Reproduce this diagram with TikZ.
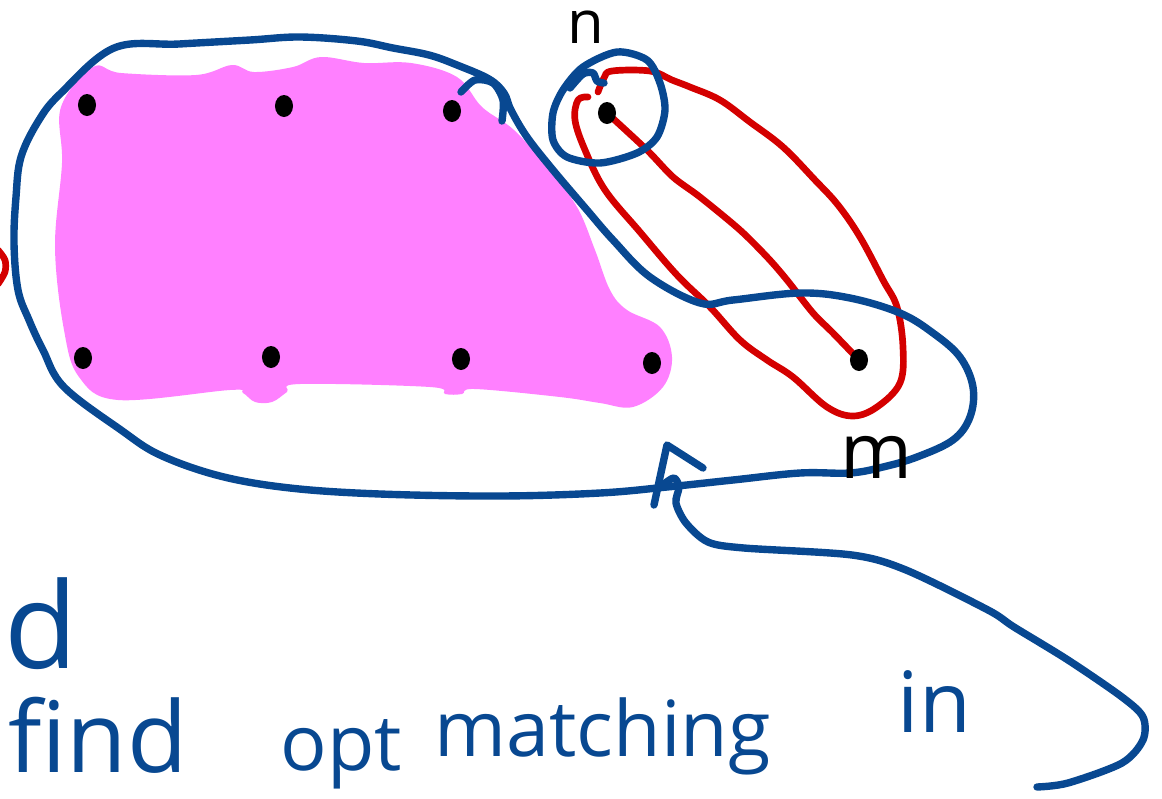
\documentclass[tikz,border=0pt]{standalone}
\usepackage{fontspec}
\setmainfont{Open Sans}
\usetikzlibrary{shapes.geometric}

\definecolor{inkblue}{RGB}{8,72,145}
\definecolor{inkred}{RGB}{212,0,0}
\definecolor{inkpink}{RGB}{255,128,255}

\begin{document}
\begin{tikzpicture}[x=0.01cm, y=-0.01cm,
  blueline/.style={inkblue, line width=2.1pt, line cap=round, line join=round},
  redline/.style={inkred, line width=1.9pt, line cap=round, line join=round},
  vertex/.style={ellipse, fill=black, inner sep=0pt, minimum width=0.18cm, minimum height=0.22cm},
  script/.style={inkblue, anchor=base west, inner sep=0pt}]
\useasboundingbox (0,0) rectangle (1162,799);

\foreach \v/\x/\y in {a1/87/105, a2/284/106, a3/452/111,
  b1/83/358, b2/271/357, b3/461/359, b4/652/363, vn/607/113, vm/859/360}
  \coordinate (\v) at (\x,\y);

% shaded part of the graph
\fill[inkpink] plot[smooth cycle, tension=0.6] coordinates {
  (61,107) (93,67) (121,73) (196,75) (232,65) (254,72) (293,67) (321,57)
  (364,63) (411,63) (457,77) (482,107) (514,130) (547,167) (577,207)
  (595,250) (610,290) (627,310) (660,327) (672,357) (663,387) (633,407)
  (600,403) (560,397) (475,389) (462,394) (445,394) (430,387) (300,384)
  (287,392) (272,402) (255,402) (243,393) (230,390) (118,400) (79,377)
  (64,330) (55,247) (62,163)};

% red loop and the edge n--m
\draw[redline] plot[smooth, tension=0.6] coordinates {
  (598,92) (604,78) (612,71) (650,71) (672,80) (690,87) (720,100) (750,122)
  (783,147) (815,180) (838,205) (860,237) (883,280) (897,307) (903,347)
  (900,383) (877,407) (853,416) (827,407) (793,377) (767,360) (740,340)
  (710,307) (677,275) (640,232) (605,190) (585,150) (575,120) (578,100) (588,97)};
\draw[redline] plot[smooth] coordinates {
  (vn) (647,150) (673,177) (700,197) (740,230) (768,258) (787,280) (813,313) (833,333) (vm)};
\draw[redline] plot[smooth] coordinates {(-2,250) (5,260) (5,272) (-2,284)};

% blue outline round the graph
\draw[blueline] plot[smooth cycle, tension=0.6] coordinates {
  (114,48) (179,44) (250,40) (300,37) (357,41) (393,48) (429,55) (457,65)
  (489,79) (504,93) (511,110) (527,137) (553,170) (587,210) (613,240)
  (650,277) (700,303) (733,300) (800,293) (850,298) (900,313) (933,333)
  (960,357) (973,387) (970,417) (953,440) (917,457) (883,467) (850,473)
  (800,473) (733,480) (667,487) (600,493) (500,496) (380,494) (290,488)
  (220,476) (160,455) (121,430) (64,387) (43,350) (29,320) (18,290)
  (14,243) (16,197) (21,157) (39,120) (61,93)};
\draw[blueline] plot[smooth] coordinates {(461,92) (475,80) (493,83) (503,100) (502,121)};

% circle round n
\draw[blueline] plot[smooth cycle] coordinates {
  (583,67) (617,52) (647,60) (660,83) (665,110) (657,137) (637,153)
  (600,163) (567,157) (553,140) (553,113) (563,90)};
\draw[blueline] plot[smooth] coordinates {(570,88) (583,74) (593,73) (597,81) (604,83)};

% arrow up to the outline
\coordinate (tail) at (1037,787);
\coordinate (tip) at (667,445);
\draw[blueline] plot[smooth] coordinates {
  (tail) (1068,783) (1122,763) (1143,740) (1143,717) (1122,697) (1068,660)
  (1014,627) (988,610) (906,570) (852,555) (744,548) (708,542) (686,523)
  (676,503) (679,487) (674,478) (664,484)};
\draw[blueline] (654,505) -- (tip) -- (703,468);

\foreach \v in {a1, a2, a3, b1, b2, b3, b4, vn, vm}
  \node[vertex] (\v-dot) at (\v) {};

\node[anchor=base west, inner sep=0pt, font=\fontsize{17}{17}\selectfont] (nlabel) at (567,43) {n};
\node[anchor=base west, inner sep=0pt, font=\fontsize{22}{22}\selectfont] (mlabel) at (840,478) {m};

\node[script, font=\fontsize{34}{34}\selectfont] (wd) at (4,668) {d};
\node[script, font=\fontsize{28}{28}\selectfont] (wfind) at (8,772) {find};
\node[script, font=\fontsize{22}{22}\selectfont] (wopt) at (280,770) {opt};
\node[script, font=\fontsize{22}{22}\selectfont] (wmatching) at (434,756) {matching};
\node[script, font=\fontsize{24}{24}\selectfont] (win) at (897,732) {in};
\end{tikzpicture}
\end{document}
